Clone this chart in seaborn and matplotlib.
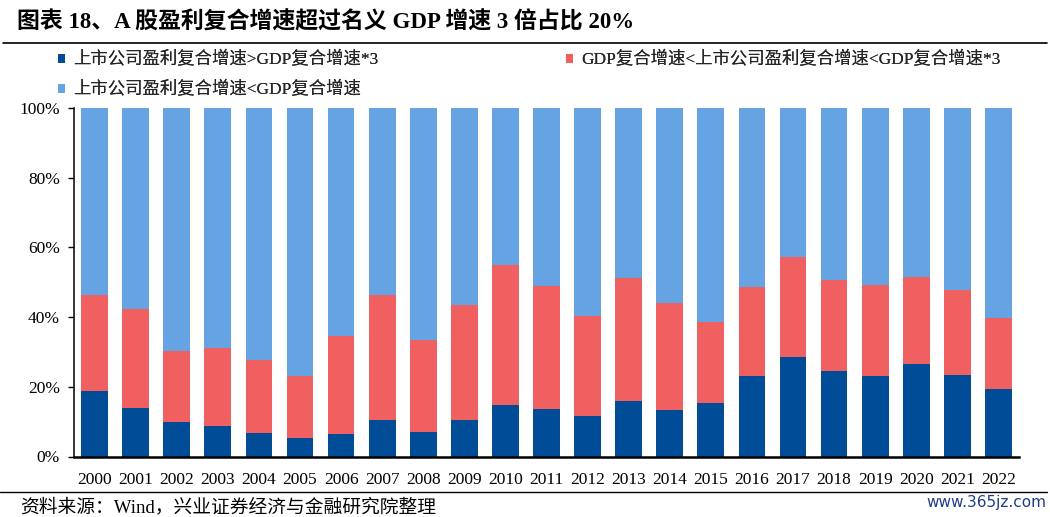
import numpy as np
import pandas as pd
import matplotlib
matplotlib.use('Agg')
import matplotlib.pyplot as plt
from matplotlib.patches import Patch
from matplotlib.lines import Line2D
from matplotlib.ticker import PercentFormatter
import seaborn as sns

years = [str(y) for y in range(2000, 2023)]
# share of listed firms, %
above_3x = [18.7, 13.9, 9.8, 8.7, 6.7, 5.3, 6.4, 10.4, 7.0, 10.4, 14.7, 13.6,
            11.7, 15.9, 13.4, 15.4, 23.0, 28.5, 24.6, 23.1, 26.6, 23.4, 19.4]
between = [27.6, 28.4, 20.4, 22.5, 21.0, 17.8, 28.2, 36.0, 26.5, 33.1, 40.2, 35.4,
           28.6, 35.4, 30.7, 23.2, 25.7, 28.8, 26.1, 26.1, 24.9, 24.4, 20.4]
below_gdp = [53.7, 57.7, 69.8, 68.8, 72.3, 76.9, 65.4, 53.6, 66.5, 56.5, 45.1, 51.0,
             59.7, 48.7, 55.9, 61.4, 51.3, 42.7, 49.3, 50.8, 48.5, 52.2, 60.2]

labels = ['上市公司盈利复合增速>GDP复合增速*3',
          'GDP复合增速<上市公司盈利复合增速<GDP复合增速*3',
          '上市公司盈利复合增速<GDP复合增速']
colors = ['#004C97', '#F06060', '#66A3E3']

title = '图表 18、A 股盈利复合增速超过名义 GDP 增速 3 倍占比 20%'
source = '资料来源：Wind，兴业证券经济与金融研究院整理'

sns.set_theme(style='ticks')
plt.rcParams['font.family'] = ['Liberation Serif', 'Noto Sans CJK SC']
plt.rcParams['axes.unicode_minus'] = False

df = pd.DataFrame({'year': years,
                   'a': np.array(above_3x) / 100,
                   'b': np.array(between) / 100,
                   'c': np.array(below_gdp) / 100})
df['ab'] = df['a'] + df['b']
df['abc'] = df['ab'] + df['c']

fig = plt.figure(figsize=(10.5, 5.17), dpi=100)
ax = fig.add_axes([74 / 1050, 1 - 456.5 / 517, 945 / 1050, 348.5 / 517])

# stacked bars drawn as overlapping cumulative totals
for col, c in zip(['abc', 'ab', 'a'], [colors[2], colors[1], colors[0]]):
    sns.barplot(data=df, x='year', y=col, color=c, width=0.65,
                saturation=1, errorbar=None, ax=ax, linewidth=0)

ax.set_xlim(-0.5, 22.5)
ax.set_ylim(0, 1)
ax.set_yticks(np.arange(0, 1.01, 0.2))
ax.yaxis.set_major_formatter(PercentFormatter(1.0, decimals=0))
ax.set_xlabel('')
ax.set_ylabel('')
sns.despine(ax=ax, top=True, right=True)
ax.spines['left'].set_linewidth(1.1)
ax.spines['bottom'].set_linewidth(1.8)
ax.spines['left'].set_color('black')
ax.spines['bottom'].set_color('black')
ax.tick_params(axis='y', direction='out', length=4, width=1, pad=6,
               labelsize=12.5, colors='black')
ax.tick_params(axis='x', length=0, pad=11, labelsize=12.5, colors='black')

# title and rules
fig.text(17 / 1050, 1 - 22 / 517, title, ha='left', va='center',
         fontsize=16.5, fontweight='bold', color='black')
fig.add_artist(Line2D([0.003, 0.997], [1 - 43 / 517] * 2, color='black',
                      lw=1.2, transform=fig.transFigure))
fig.add_artist(Line2D([0.0, 0.997], [1 - 492 / 517] * 2, color='black',
                      lw=1.0, transform=fig.transFigure))

# legend entries placed where the original has them
legend_pos = [(58, 60), (566, 60), (58, 90)]
for lab, c, (px, py) in zip(labels, colors, legend_pos):
    leg = fig.legend(handles=[Patch(facecolor=c, edgecolor='none', label=lab)],
                     loc='center left', bbox_to_anchor=(px / 1050, 1 - py / 517),
                     frameon=False, borderpad=0, borderaxespad=0,
                     handlelength=0.4, handleheight=0.4, handletextpad=0.45,
                     fontsize=12.5)
    fig.add_artist(leg)

fig.text(20 / 1050, 1 - 507 / 517, source, ha='left', va='center',
         fontsize=13.5, color='black')
fig.text(1046 / 1050, 1 - 502 / 517, 'www.365jz.com', ha='right', va='center',
         fontsize=11, color='#1F3C88', family='DejaVu Sans')

fig.savefig('out.png', dpi=100)
